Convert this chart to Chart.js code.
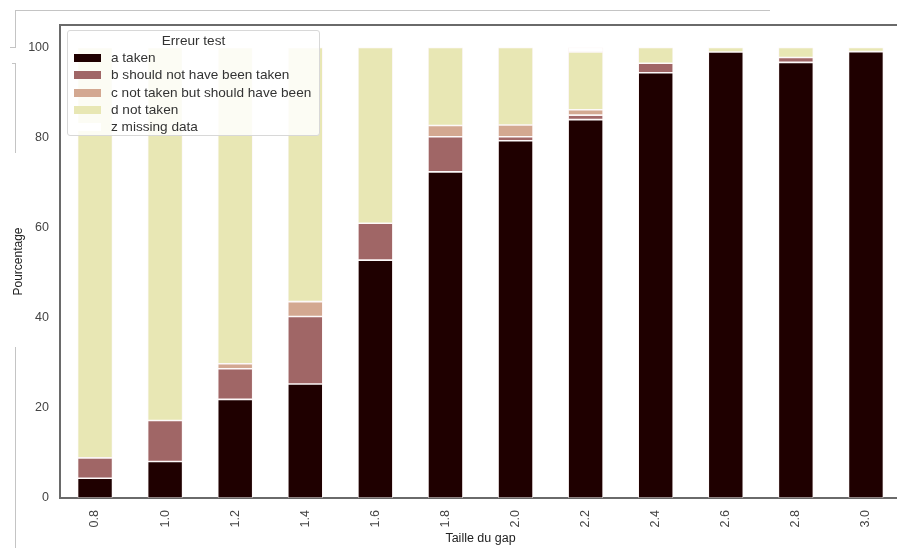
<!DOCTYPE html>
<html>
<head>
<meta charset="utf-8">
<script src="https://cdn.jsdelivr.net/npm/chart.js@4/dist/chart.umd.min.js"></script>
<style>
  html, body { margin: 0; padding: 0; background: #fff; overflow: hidden; }
  body { width: 897px; height: 548px; position: relative; font-family: "Liberation Sans", Arial, sans-serif; }
  #wrap { position: absolute; left: 0; top: 0; width: 910px; height: 548px; }
  .ln { position: absolute; background: #c4c4c4; }
  #legend {
    position: absolute; left: 67px; top: 30px; width: 253px; height: 106px;
    border: 1px solid #d8d8d8; border-radius: 3px; background: rgba(255,255,255,0.85);
    font-size: 13.6px; color: #333; box-sizing: border-box;
  }
  #legend .title { text-align: center; margin-top: 1px; height: 17px; line-height: 17px; }
  #legend .row { height: 17.3px; line-height: 17.3px; position: relative; padding-left: 43px; white-space: nowrap; }
  #legend .sw { position: absolute; left: 6px; top: 5px; width: 27px; height: 8px; }
</style>
</head>
<body>
<div id="wrap"><canvas id="gapChart" width="910" height="548"></canvas></div>

<!-- scan border marks -->
<div class="ln" style="left:15px;top:10px;width:755px;height:1px"></div>
<div class="ln" style="left:15px;top:10px;width:1px;height:38px"></div>
<div class="ln" style="left:10px;top:47px;width:6px;height:1px"></div>
<div class="ln" style="left:12px;top:63px;width:4px;height:1px"></div>
<div class="ln" style="left:15px;top:63px;width:1px;height:90px"></div>
<div class="ln" style="left:15px;top:347px;width:1px;height:201px"></div>

<div id="legend"></div>

<script>
// categories and series (percent)
const gaps = ["0.8", "1.0", "1.2", "1.4", "1.6", "1.8", "2.0", "2.2", "2.4", "2.6", "2.8", "3.0"];

const aTaken     = [4.4, 8.1, 21.9, 25.3, 52.8, 72.4, 79.3, 84.0, 94.4, 99.0, 96.7, 99.1];
const bShouldNot = [4.5, 9.1, 6.8, 15.0, 8.2, 7.8, 0.9, 1.0, 2.1, 0, 1.1, 0];
const cShould    = [0, 0, 1.1, 3.3, 0, 2.5, 2.6, 1.2, 0, 0, 0, 0];
const dNotTaken  = [91.1, 82.8, 70.2, 56.4, 39.0, 17.3, 17.2, 12.8, 3.5, 1.0, 2.2, 0.9];
const zMissing   = [0, 0, 0, 0, 0, 0, 0, 1.0, 0, 0, 0, 0];

const yTicks = [0, 20, 40, 60, 80, 100];

const seriesLabels = ["a taken", "b should not have been taken", "c not taken but should have been", "d not taken", "z missing data"];
const seriesColors = ["#1f0000", "#a06666", "#d3a891", "#e8e7b4", "#ffffff"];
const seriesData = [aTaken, bShouldNot, cShould, dNotTaken, zMissing];

const datasets = seriesData.map((d, i) => ({
  label: seriesLabels[i],
  data: d,
  backgroundColor: seriesColors[i],
  borderColor: "rgba(250,240,240,0.7)",
  borderWidth: 0.8,
  borderSkipped: false,
  barPercentage: 0.5,
  categoryPercentage: 1.0
}));

// frame (top spine)
const framePlugin = {
  id: "frame",
  afterDraw(chart) {
    const { ctx, chartArea } = chart;
    ctx.save();
    ctx.strokeStyle = "#6a6a6a";
    ctx.lineWidth = 2;
    ctx.beginPath();
    ctx.moveTo(chartArea.left, chartArea.top);
    ctx.lineTo(chartArea.right + 5, chartArea.top);
    ctx.stroke();
    ctx.restore();
  }
};

const chart = new Chart(document.getElementById("gapChart"), {
  type: "bar",
  data: { labels: gaps, datasets: datasets },
  options: {
    responsive: false,
    animation: false,
    layout: { padding: { left: 4, right: 9, top: 25, bottom: 0 } },
    plugins: {
      legend: { display: false },
      tooltip: { enabled: false }
    },
    scales: {
      x: {
        stacked: true,
        grid: { display: false },
        border: { display: true, color: "#6a6a6a", width: 2 },
        ticks: {
          color: "#444",
          font: { size: 12.5, family: "Liberation Sans" },
          minRotation: 90,
          maxRotation: 90,
          padding: 4
        },
        title: {
          display: true,
          text: "Taille du gap",
          color: "#222",
          font: { size: 12.5, family: "Liberation Sans" },
          padding: { top: 0, bottom: 2 }
        },
        afterFit: s => { s.height = 50; }
      },
      y: {
        stacked: true,
        min: 0,
        max: 105,
        grid: { display: false },
        border: { display: true, color: "#6a6a6a", width: 2 },
        afterBuildTicks: s => { s.ticks = yTicks.map(v => ({ value: v })); },
        ticks: {
          color: "#444",
          font: { size: 12.5, family: "Liberation Sans" },
          padding: 3
        },
        title: {
          display: true,
          text: "Pourcentage",
          color: "#222",
          font: { size: 12, family: "Liberation Sans" },
          padding: { top: 7, bottom: 0 }
        },
        afterFit: s => { s.width = 56; }
      }
    }
  },
  plugins: [framePlugin]
});

// legend built from the datasets
const legendEl = document.getElementById("legend");
let html = '<div class="title">Erreur test</div>';
chart.data.datasets.forEach(ds => {
  html += '<div class="row"><span class="sw" style="background:' + ds.backgroundColor + '"></span>' + ds.label + '</div>';
});
legendEl.innerHTML = html;
</script>
</body>
</html>
